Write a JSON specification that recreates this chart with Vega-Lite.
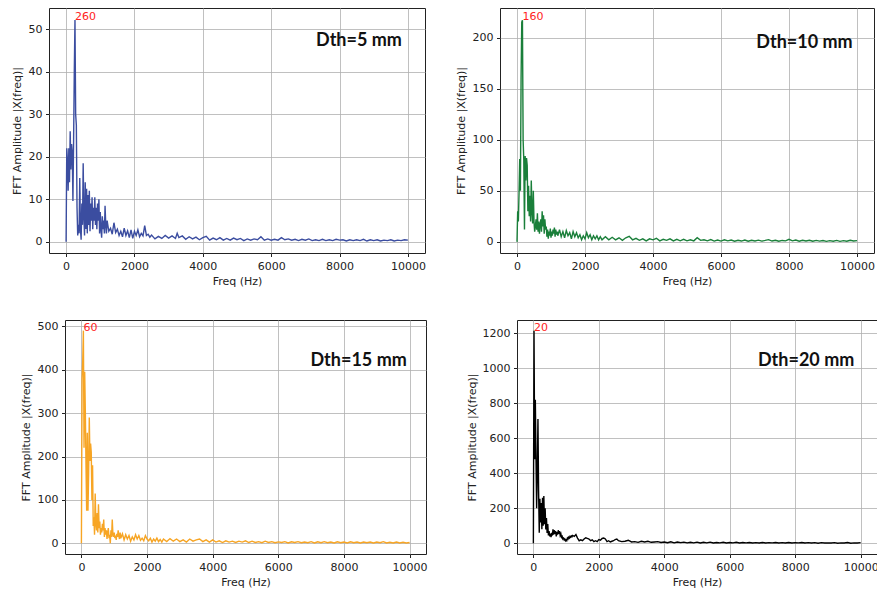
{
  "$schema": "https://vega.github.io/schema/vega-lite/v6.json",
  "padding": {"left": 0, "top": 7, "right": 0, "bottom": 0},
  "background": "white",
  "datasets": {
    "d5": [
      {"f":0,"a":0},{"f":20,"a":22},{"f":40,"a":19},{"f":60,"a":12},{"f":80,"a":22},{"f":100,"a":14},{"f":120,"a":26},{"f":140,"a":17},{"f":160,"a":23},{"f":180,"a":21},{"f":200,"a":9.6},{"f":220,"a":24},{"f":240,"a":40},{"f":260,"a":52.2},{"f":280,"a":30},{"f":300,"a":27.5},{"f":320,"a":8},{"f":340,"a":1.5},{"f":360,"a":4},{"f":380,"a":2},{"f":400,"a":15},{"f":420,"a":3},{"f":440,"a":0.5},{"f":460,"a":9},{"f":480,"a":4},{"f":500,"a":18.5},{"f":520,"a":6},{"f":540,"a":1.5},{"f":560,"a":14},{"f":580,"a":3},{"f":600,"a":12.5},{"f":620,"a":2},{"f":640,"a":11},{"f":660,"a":4},{"f":680,"a":12},{"f":700,"a":2.5},{"f":720,"a":9},{"f":740,"a":5},{"f":760,"a":10.5},{"f":780,"a":3},{"f":800,"a":8},{"f":820,"a":5},{"f":840,"a":10.5},{"f":860,"a":4},{"f":880,"a":8},{"f":900,"a":3},{"f":920,"a":9},{"f":940,"a":5},{"f":960,"a":10},{"f":980,"a":2},{"f":1000,"a":7},{"f":1020,"a":3},{"f":1040,"a":1},{"f":1060,"a":6},{"f":1080,"a":3},{"f":1100,"a":5},{"f":1120,"a":2},{"f":1140,"a":8.5},{"f":1160,"a":4},{"f":1180,"a":2},{"f":1200,"a":5},
      {"f":1250,"a":2.5},{"f":1300,"a":3.2},{"f":1350,"a":1.8},{"f":1400,"a":4.5},{"f":1450,"a":2.2},{"f":1500,"a":3},{"f":1550,"a":1.5},{"f":1600,"a":2.5},{"f":1650,"a":1.2},{"f":1700,"a":3.2},{"f":1750,"a":1.5},{"f":1800,"a":2.6},{"f":1850,"a":1},{"f":1900,"a":2.8},{"f":1950,"a":0.8},{"f":2000,"a":2.5},{"f":2050,"a":1.5},{"f":2100,"a":2.8},{"f":2150,"a":1.2},{"f":2200,"a":2},{"f":2250,"a":1.4},{"f":2300,"a":3.8},{"f":2350,"a":1.5},{"f":2400,"a":1.8},{"f":2450,"a":1.1},{"f":2500,"a":1.6},
      {"f":2600,"a":0.7},{"f":2700,"a":1.3},{"f":2800,"a":0.8},{"f":2900,"a":1.5},{"f":3000,"a":0.9},{"f":3100,"a":1.4},{"f":3200,"a":0.8},{"f":3250,"a":2},{"f":3300,"a":1},{"f":3400,"a":1.4},{"f":3500,"a":0.6},{"f":3600,"a":1.2},{"f":3700,"a":0.7},{"f":3800,"a":1.1},{"f":3900,"a":0.5},{"f":4000,"a":1},{"f":4100,"a":1.3},{"f":4200,"a":0.4},{"f":4300,"a":0.9},{"f":4400,"a":0.5},{"f":4500,"a":1},{"f":4600,"a":0.4},{"f":4700,"a":0.8},{"f":4800,"a":0.4},{"f":4900,"a":0.9},{"f":5000,"a":0.5},{"f":5100,"a":0.8},{"f":5200,"a":0.3},{"f":5300,"a":0.7},{"f":5400,"a":0.4},{"f":5500,"a":0.7},{"f":5600,"a":0.5},{"f":5700,"a":1.2},{"f":5800,"a":0.4},{"f":5900,"a":0.7},{"f":6000,"a":0.4},{"f":6100,"a":0.6},{"f":6200,"a":0.4},{"f":6300,"a":1},{"f":6400,"a":0.5},{"f":6500,"a":0.7},{"f":6600,"a":0.4},{"f":6700,"a":0.6},{"f":6800,"a":0.3},{"f":6900,"a":0.6},{"f":7000,"a":0.4},{"f":7100,"a":0.7},{"f":7200,"a":0.3},{"f":7300,"a":0.5},{"f":7400,"a":0.3},{"f":7500,"a":0.6},{"f":7600,"a":0.3},{"f":7700,"a":0.5},{"f":7800,"a":0.3},{"f":7900,"a":0.6},{"f":8000,"a":0.4},{"f":8100,"a":0.5},{"f":8200,"a":0.2},{"f":8300,"a":0.5},{"f":8400,"a":0.3},{"f":8500,"a":0.5},{"f":8600,"a":0.3},{"f":8700,"a":0.6},{"f":8800,"a":0.2},{"f":8900,"a":0.5},{"f":9000,"a":0.3},{"f":9100,"a":0.5},{"f":9200,"a":0.2},{"f":9300,"a":0.4},{"f":9400,"a":0.3},{"f":9500,"a":0.5},{"f":9600,"a":0.2},{"f":9700,"a":0.4},{"f":9800,"a":0.3},{"f":9900,"a":0.5},{"f":10000,"a":0.4}
    ],
    "d10": [
      {"f":0,"a":0},{"f":20,"a":30},{"f":40,"a":20},{"f":60,"a":48},{"f":80,"a":81},{"f":100,"a":50},{"f":120,"a":160},{"f":140,"a":215},{"f":160,"a":217},{"f":180,"a":100},{"f":200,"a":80},{"f":220,"a":12},{"f":240,"a":84},{"f":260,"a":60},{"f":280,"a":82},{"f":300,"a":75},{"f":320,"a":30},{"f":340,"a":55},{"f":360,"a":25},{"f":380,"a":45},{"f":400,"a":20},{"f":420,"a":60},{"f":440,"a":30},{"f":460,"a":18},{"f":480,"a":50},{"f":500,"a":20},{"f":520,"a":10},{"f":540,"a":15},{"f":560,"a":22},{"f":580,"a":12},{"f":600,"a":28},{"f":620,"a":10},{"f":640,"a":20},{"f":660,"a":8},{"f":680,"a":17},{"f":700,"a":22},{"f":720,"a":10},{"f":740,"a":30},{"f":760,"a":15},{"f":780,"a":26},{"f":800,"a":8},{"f":820,"a":22},{"f":840,"a":12},{"f":860,"a":15},{"f":880,"a":5},{"f":900,"a":12},{"f":920,"a":3},{"f":940,"a":10},{"f":960,"a":6},{"f":980,"a":13},{"f":1000,"a":4},{"f":1020,"a":10},{"f":1040,"a":6},{"f":1060,"a":12},{"f":1080,"a":8},{"f":1100,"a":14},{"f":1120,"a":5},{"f":1140,"a":12},{"f":1160,"a":7},{"f":1180,"a":10},{"f":1200,"a":6},
      {"f":1250,"a":12},{"f":1300,"a":5},{"f":1350,"a":10},{"f":1400,"a":4},{"f":1450,"a":11},{"f":1500,"a":6},{"f":1550,"a":9},{"f":1600,"a":3},{"f":1650,"a":10},{"f":1700,"a":5},{"f":1750,"a":9},{"f":1800,"a":4},{"f":1850,"a":7},{"f":1900,"a":2},{"f":1950,"a":6},{"f":2000,"a":3},{"f":2050,"a":9},{"f":2100,"a":4},{"f":2150,"a":7},{"f":2200,"a":2},{"f":2250,"a":6},{"f":2300,"a":3},{"f":2350,"a":6},{"f":2400,"a":2},{"f":2450,"a":5},{"f":2500,"a":2},
      {"f":2600,"a":5},{"f":2700,"a":2},{"f":2800,"a":4.5},{"f":2900,"a":2},{"f":3000,"a":4},{"f":3100,"a":1.5},{"f":3200,"a":4},{"f":3300,"a":5.5},{"f":3400,"a":2},{"f":3500,"a":3.5},{"f":3600,"a":1.5},{"f":3700,"a":3},{"f":3800,"a":1},{"f":3900,"a":3},{"f":4000,"a":2},{"f":4100,"a":3.5},{"f":4200,"a":1},{"f":4300,"a":2.5},{"f":4400,"a":1.5},{"f":4500,"a":3},{"f":4600,"a":1},{"f":4700,"a":2.5},{"f":4800,"a":1},{"f":4900,"a":2.5},{"f":5000,"a":1},{"f":5100,"a":2},{"f":5200,"a":1},{"f":5300,"a":4},{"f":5400,"a":1.5},{"f":5500,"a":2},{"f":5600,"a":1},{"f":5700,"a":2.2},{"f":5800,"a":0.8},{"f":5900,"a":1.8},{"f":6000,"a":0.8},{"f":6100,"a":2},{"f":6200,"a":1},{"f":6300,"a":1.8},{"f":6400,"a":0.7},{"f":6500,"a":1.6},{"f":6600,"a":0.8},{"f":6700,"a":1.8},{"f":6800,"a":0.6},{"f":6900,"a":1.5},{"f":7000,"a":0.8},{"f":7100,"a":1.7},{"f":7200,"a":0.7},{"f":7300,"a":1.4},{"f":7400,"a":2.2},{"f":7500,"a":0.8},{"f":7600,"a":1.5},{"f":7700,"a":0.6},{"f":7800,"a":1.4},{"f":7900,"a":1},{"f":8000,"a":2.5},{"f":8100,"a":1},{"f":8200,"a":1.8},{"f":8300,"a":0.7},{"f":8400,"a":1.5},{"f":8500,"a":0.8},{"f":8600,"a":1.6},{"f":8700,"a":0.6},{"f":8800,"a":1.4},{"f":8900,"a":0.7},{"f":9000,"a":1.3},{"f":9100,"a":0.5},{"f":9200,"a":1.2},{"f":9300,"a":0.6},{"f":9400,"a":1.4},{"f":9500,"a":0.5},{"f":9600,"a":1.2},{"f":9700,"a":0.6},{"f":9800,"a":1.6},{"f":9900,"a":0.8},{"f":10000,"a":1.2}
    ],
    "d15": [
      {"f":0,"a":0},{"f":20,"a":380},{"f":40,"a":420},{"f":60,"a":490},{"f":80,"a":220},{"f":100,"a":395},{"f":120,"a":300},{"f":140,"a":180},{"f":160,"a":75},{"f":180,"a":255},{"f":200,"a":75},{"f":220,"a":160},{"f":240,"a":290},{"f":260,"a":190},{"f":280,"a":230},{"f":300,"a":210},{"f":320,"a":100},{"f":340,"a":180},{"f":360,"a":40},{"f":380,"a":60},{"f":400,"a":20},{"f":420,"a":115},{"f":440,"a":45},{"f":460,"a":30},{"f":480,"a":70},{"f":500,"a":25},{"f":520,"a":90},{"f":540,"a":35},{"f":560,"a":50},{"f":580,"a":20},{"f":600,"a":35},{"f":620,"a":25},{"f":640,"a":45},{"f":660,"a":30},{"f":680,"a":55},{"f":700,"a":15},{"f":720,"a":35},{"f":740,"a":20},{"f":760,"a":30},{"f":780,"a":10},{"f":800,"a":25},{"f":820,"a":35},{"f":840,"a":12},{"f":860,"a":20},{"f":880,"a":0.5},{"f":900,"a":30},{"f":920,"a":15},{"f":940,"a":55},{"f":960,"a":20},{"f":980,"a":15},{"f":1000,"a":25},{"f":1020,"a":12},{"f":1040,"a":18},{"f":1060,"a":8},{"f":1080,"a":22},{"f":1100,"a":15},{"f":1120,"a":30},{"f":1140,"a":18},{"f":1160,"a":10},{"f":1180,"a":25},{"f":1200,"a":12},
      {"f":1250,"a":22},{"f":1300,"a":8},{"f":1350,"a":20},{"f":1400,"a":10},{"f":1450,"a":18},{"f":1500,"a":5},{"f":1550,"a":15},{"f":1600,"a":8},{"f":1650,"a":20},{"f":1700,"a":10},{"f":1750,"a":18},{"f":1800,"a":7},{"f":1850,"a":12},{"f":1900,"a":6},{"f":1950,"a":18},{"f":2000,"a":10},{"f":2050,"a":6},{"f":2100,"a":12},{"f":2150,"a":3},{"f":2200,"a":10},{"f":2250,"a":5},{"f":2300,"a":12},{"f":2350,"a":4},{"f":2400,"a":9},{"f":2450,"a":3},{"f":2500,"a":10},
      {"f":2600,"a":4},{"f":2700,"a":11},{"f":2800,"a":5},{"f":2900,"a":10},{"f":3000,"a":4},{"f":3100,"a":8},{"f":3200,"a":3},{"f":3300,"a":10},{"f":3400,"a":5},{"f":3500,"a":8},{"f":3600,"a":10},{"f":3700,"a":4},{"f":3800,"a":8},{"f":3900,"a":3},{"f":4000,"a":8},{"f":4100,"a":3},{"f":4200,"a":6},{"f":4300,"a":2},{"f":4400,"a":6},{"f":4500,"a":3},{"f":4600,"a":5},{"f":4700,"a":2},{"f":4800,"a":5},{"f":4900,"a":3},{"f":5000,"a":6},{"f":5100,"a":2},{"f":5200,"a":5},{"f":5300,"a":2},{"f":5400,"a":4},{"f":5500,"a":1.5},{"f":5600,"a":5},{"f":5700,"a":2},{"f":5800,"a":4},{"f":5900,"a":1.5},{"f":6000,"a":3.5},{"f":6100,"a":2},{"f":6200,"a":4},{"f":6300,"a":1},{"f":6400,"a":3.5},{"f":6500,"a":2},{"f":6600,"a":4},{"f":6700,"a":1.5},{"f":6800,"a":3},{"f":6900,"a":1.5},{"f":7000,"a":4},{"f":7100,"a":1},{"f":7200,"a":3.5},{"f":7300,"a":1.5},{"f":7400,"a":4},{"f":7500,"a":1.5},{"f":7600,"a":3},{"f":7700,"a":1},{"f":7800,"a":3.5},{"f":7900,"a":1.5},{"f":8000,"a":3},{"f":8100,"a":1},{"f":8200,"a":3.5},{"f":8300,"a":1.5},{"f":8400,"a":3},{"f":8500,"a":1},{"f":8600,"a":3},{"f":8700,"a":1.5},{"f":8800,"a":3},{"f":8900,"a":1},{"f":9000,"a":3},{"f":9100,"a":1.5},{"f":9200,"a":4},{"f":9300,"a":1},{"f":9400,"a":2.5},{"f":9500,"a":1},{"f":9600,"a":3},{"f":9700,"a":1},{"f":9800,"a":2.5},{"f":9900,"a":1},{"f":10000,"a":2}
    ],
    "d20": [
      {"f":0,"a":0},{"f":20,"a":1215},{"f":40,"a":480},{"f":60,"a":820},{"f":80,"a":500},{"f":100,"a":200},{"f":120,"a":400},{"f":140,"a":710},{"f":160,"a":300},{"f":180,"a":60},{"f":200,"a":255},{"f":220,"a":120},{"f":240,"a":230},{"f":260,"a":80},{"f":280,"a":260},{"f":300,"a":100},{"f":320,"a":270},{"f":340,"a":110},{"f":360,"a":200},{"f":380,"a":80},{"f":400,"a":145},{"f":420,"a":60},{"f":440,"a":110},{"f":460,"a":45},{"f":480,"a":70},{"f":500,"a":40},{"f":520,"a":55},{"f":540,"a":35},{"f":560,"a":60},{"f":580,"a":45},{"f":600,"a":80},{"f":620,"a":50},{"f":640,"a":75},{"f":660,"a":55},{"f":680,"a":70},{"f":700,"a":40},{"f":720,"a":65},{"f":740,"a":50},{"f":760,"a":75},{"f":780,"a":55},{"f":800,"a":70},{"f":820,"a":45},{"f":840,"a":55},{"f":860,"a":35},{"f":880,"a":40},{"f":900,"a":25},{"f":920,"a":30},{"f":940,"a":20},{"f":960,"a":25},{"f":980,"a":15},{"f":1000,"a":20},{"f":1020,"a":15},{"f":1040,"a":30},{"f":1060,"a":25},{"f":1080,"a":35},{"f":1100,"a":30},{"f":1120,"a":40},{"f":1140,"a":35},{"f":1160,"a":42},{"f":1180,"a":38},{"f":1200,"a":45},
      {"f":1250,"a":40},{"f":1300,"a":50},{"f":1350,"a":30},{"f":1400,"a":15},{"f":1450,"a":20},{"f":1500,"a":15},{"f":1550,"a":25},{"f":1600,"a":32},{"f":1650,"a":28},{"f":1700,"a":25},{"f":1750,"a":15},{"f":1800,"a":20},{"f":1850,"a":10},{"f":1900,"a":15},{"f":1950,"a":10},{"f":2000,"a":22},{"f":2050,"a":18},{"f":2100,"a":28},{"f":2150,"a":30},{"f":2200,"a":25},{"f":2250,"a":10},{"f":2300,"a":15},{"f":2350,"a":8},{"f":2400,"a":12},{"f":2450,"a":15},{"f":2500,"a":22},{"f":2550,"a":25},
      {"f":2600,"a":15},{"f":2700,"a":10},{"f":2800,"a":12},{"f":2900,"a":18},{"f":3000,"a":8},{"f":3100,"a":10},{"f":3200,"a":6},{"f":3300,"a":12},{"f":3400,"a":8},{"f":3500,"a":12},{"f":3600,"a":6},{"f":3700,"a":8},{"f":3800,"a":10},{"f":3900,"a":5},{"f":4000,"a":8},{"f":4100,"a":4},{"f":4200,"a":9},{"f":4300,"a":3},{"f":4400,"a":8},{"f":4500,"a":4},{"f":4600,"a":7},{"f":4700,"a":3},{"f":4800,"a":6},{"f":4900,"a":3},{"f":5000,"a":7},{"f":5100,"a":2},{"f":5200,"a":6},{"f":5300,"a":3},{"f":5400,"a":7},{"f":5500,"a":2},{"f":5600,"a":5},{"f":5700,"a":3},{"f":5800,"a":6},{"f":5900,"a":2},{"f":6000,"a":5},{"f":6100,"a":3},{"f":6200,"a":6},{"f":6300,"a":2},{"f":6400,"a":5},{"f":6500,"a":3},{"f":6600,"a":5},{"f":6700,"a":2},{"f":6800,"a":4},{"f":6900,"a":2},{"f":7000,"a":5},{"f":7100,"a":2},{"f":7200,"a":4},{"f":7300,"a":3},{"f":7400,"a":5},{"f":7500,"a":2},{"f":7600,"a":4},{"f":7700,"a":2},{"f":7800,"a":5},{"f":7900,"a":2},{"f":8000,"a":4},{"f":8100,"a":3},{"f":8200,"a":5},{"f":8300,"a":2},{"f":8400,"a":4},{"f":8500,"a":2},{"f":8600,"a":4},{"f":8700,"a":1},{"f":8800,"a":4},{"f":8900,"a":2},{"f":9000,"a":3},{"f":9100,"a":2},{"f":9200,"a":4},{"f":9300,"a":1},{"f":9400,"a":3},{"f":9500,"a":2},{"f":9600,"a":5},{"f":9700,"a":1},{"f":9800,"a":3},{"f":9900,"a":2},{"f":10000,"a":4}
    ]
  },
  "spacing": 32,
  "vconcat": [
    {
      "spacing": 0,
      "hconcat": [
        {"width": 1, "height": 1, "data": {"values": []}, "mark": "point", "view": {"stroke": null}},
        {
          "width": 376, "height": 245,
          "layer": [
            {"data": {"name": "d5"}, "mark": {"type": "line", "color": "#3b4da0", "strokeWidth": 1.4},
             "encoding": {
               "x": {"field": "f", "type": "quantitative", "scale": {"domain": [-500, 10500], "nice": false, "zero": false}, "axis": {"title": "Freq (Hz)", "values": [0,2000,4000,6000,8000,10000], "tickCount": 20}},
               "y": {"field": "a", "type": "quantitative", "scale": {"domain": [-2.62, 55.02], "nice": false, "zero": false}, "axis": {"title": "FFT Amplitude |X(freq)|", "values": [0,10,20,30,40,50], "tickCount": 20, "titleX": -32, "minExtent": 47, "labelOverlap": false}}
             }},
            {"data": {"values": [{"f": 260, "a": 52.2, "t": "260"}]}, "mark": {"type": "text", "align": "left", "baseline": "alphabetic", "color": "#ff2222", "font": "DejaVu Sans", "fontSize": 11},
             "encoding": {"x": {"field": "f", "type": "quantitative"}, "y": {"field": "a", "type": "quantitative"}, "text": {"field": "t"}}},
            {"data": {"values": [{"t": "Dth=5 mm"}]}, "mark": {"type": "text", "align": "right", "baseline": "middle", "font": "Lato", "fontWeight": "bold", "fontSize": 18, "color": "#111111"},
             "encoding": {"x": {"datum": 9824}, "y": {"datum": 47.2}, "text": {"field": "t"}}}
          ]
        },
        {
          "width": 374, "height": 245,
          "layer": [
            {"data": {"name": "d10"}, "mark": {"type": "line", "color": "#1a7f3a", "strokeWidth": 1.4},
             "encoding": {
               "x": {"field": "f", "type": "quantitative", "scale": {"domain": [-500, 10500], "nice": false, "zero": false}, "axis": {"title": "Freq (Hz)", "values": [0,2000,4000,6000,8000,10000], "tickCount": 20}},
               "y": {"field": "a", "type": "quantitative", "scale": {"domain": [-10.9, 228.9], "nice": false, "zero": false}, "axis": {"title": "FFT Amplitude |X(freq)|", "values": [0,50,100,150,200], "tickCount": 20, "titleX": -39, "minExtent": 73, "labelOverlap": false}}
             }},
            {"data": {"values": [{"f": 160, "a": 217, "t": "160"}]}, "mark": {"type": "text", "align": "left", "baseline": "alphabetic", "color": "#ff2222", "font": "DejaVu Sans", "fontSize": 11},
             "encoding": {"x": {"field": "f", "type": "quantitative"}, "y": {"field": "a", "type": "quantitative"}, "text": {"field": "t"}}},
            {"data": {"values": [{"t": "Dth=10 mm"}]}, "mark": {"type": "text", "align": "right", "baseline": "middle", "font": "Lato", "fontWeight": "bold", "fontSize": 18, "color": "#111111"},
             "encoding": {"x": {"datum": 9873}, "y": {"datum": 195}, "text": {"field": "t"}}}
          ]
        }
      ]
    },
    {
      "spacing": 0,
      "hconcat": [
        {"width": 1, "height": 1, "data": {"values": []}, "mark": "point", "view": {"stroke": null}},
        {
          "width": 361, "height": 234,
          "layer": [
            {"data": {"name": "d15"}, "mark": {"type": "line", "color": "#f7a524", "strokeWidth": 1.4},
             "encoding": {
               "x": {"field": "f", "type": "quantitative", "scale": {"domain": [-500, 10500], "nice": false, "zero": false}, "axis": {"title": "Freq (Hz)", "values": [0,2000,4000,6000,8000,10000], "tickCount": 20}},
               "y": {"field": "a", "type": "quantitative", "scale": {"domain": [-24.5, 514.5], "nice": false, "zero": false}, "axis": {"title": "FFT Amplitude |X(freq)|", "values": [0,100,200,300,400,500], "tickCount": 20, "titleX": -38.6, "minExtent": 63, "labelOverlap": false}}
             }},
            {"data": {"values": [{"f": 60, "a": 490, "t": "60"}]}, "mark": {"type": "text", "align": "left", "baseline": "alphabetic", "color": "#ff2222", "font": "DejaVu Sans", "fontSize": 11},
             "encoding": {"x": {"field": "f", "type": "quantitative"}, "y": {"field": "a", "type": "quantitative"}, "text": {"field": "t"}}},
            {"data": {"values": [{"t": "Dth=15 mm"}]}, "mark": {"type": "text", "align": "right", "baseline": "middle", "font": "Lato", "fontWeight": "bold", "fontSize": 18, "color": "#111111"},
             "encoding": {"x": {"datum": 9915}, "y": {"datum": 419}, "text": {"field": "t"}}}
          ]
        },
        {
          "width": 360, "height": 234,
          "layer": [
            {"data": {"name": "d20"}, "mark": {"type": "line", "color": "#000000", "strokeWidth": 1.4},
             "encoding": {
               "x": {"field": "f", "type": "quantitative", "scale": {"domain": [-500, 10500], "nice": false, "zero": false}, "axis": {"title": "Freq (Hz)", "values": [0,2000,4000,6000,8000,10000], "tickCount": 20}},
               "y": {"field": "a", "type": "quantitative", "scale": {"domain": [-60.75, 1275.75], "nice": false, "zero": false}, "axis": {"title": "FFT Amplitude |X(freq)|", "values": [0,200,400,600,800,1000,1200], "tickCount": 20, "titleX": -44.6, "minExtent": 88, "labelOverlap": false}}
             }},
            {"data": {"values": [{"f": 20, "a": 1215, "t": "20"}]}, "mark": {"type": "text", "align": "left", "baseline": "alphabetic", "color": "#ff2222", "font": "DejaVu Sans", "fontSize": 11},
             "encoding": {"x": {"field": "f", "type": "quantitative"}, "y": {"field": "a", "type": "quantitative"}, "text": {"field": "t"}}},
            {"data": {"values": [{"t": "Dth=20 mm"}]}, "mark": {"type": "text", "align": "right", "baseline": "middle", "font": "Lato", "fontWeight": "bold", "fontSize": 18, "color": "#111111"},
             "encoding": {"x": {"datum": 9807}, "y": {"datum": 1042}, "text": {"field": "t"}}}
          ]
        }
      ]
    }
  ],
  "config": {
    "view": {"stroke": "#222222", "strokeWidth": 1},
    "axis": {
      "labelFont": "DejaVu Sans", "titleFont": "DejaVu Sans",
      "labelFontSize": 11, "titleFontSize": 11, "titleFontWeight": "normal",
      "labelColor": "#222222", "titleColor": "#222222",
      "grid": true, "gridColor": "#b0b0b0", "gridWidth": 0.8,
      "domain": false, "tickColor": "#222222", "tickSize": 3.5, "labelPadding": 3.5,
      "labelFlush": false, "labelOverlap": false, "format": "d"
    },
    "axisX": {"titlePadding": 4},
    "axisY": {"titleBaseline": "middle"}
  }
}
